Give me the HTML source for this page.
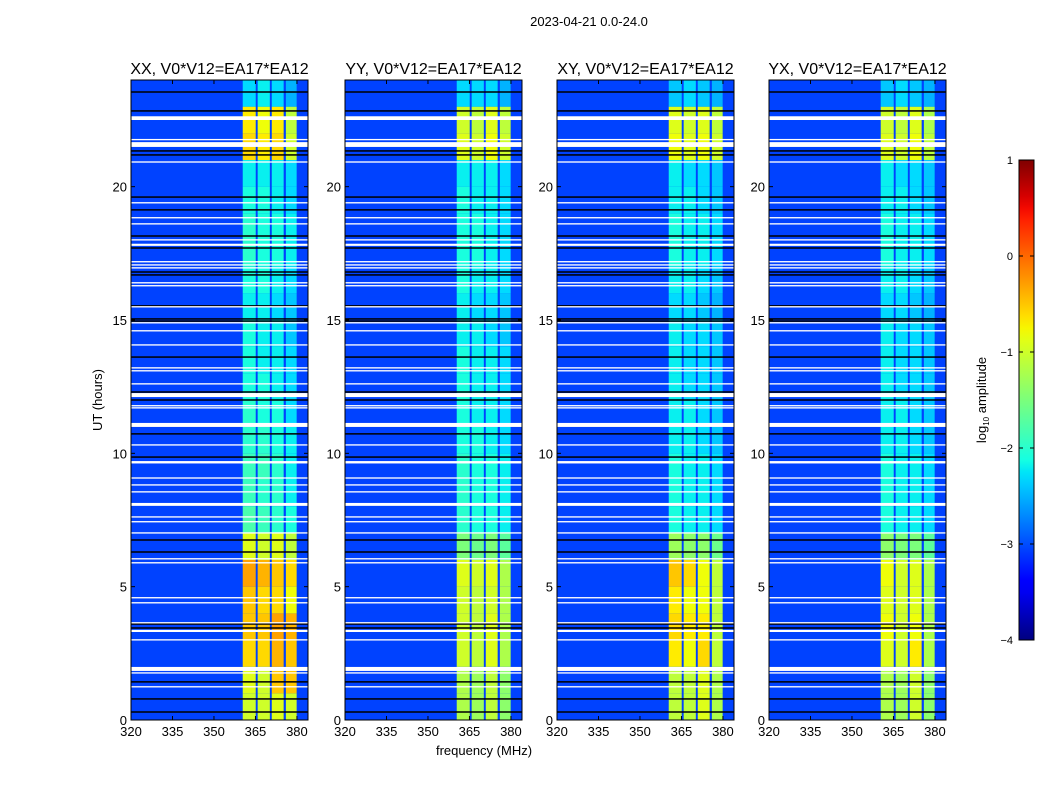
<!DOCTYPE html>
<html><head><meta charset="utf-8"><style>
body{margin:0;background:#fff;}
svg{display:block;font-family:"Liberation Sans",sans-serif;}
</style></head><body>
<svg id="fig" width="1050" height="800" viewBox="0 0 1050 800" xmlns="http://www.w3.org/2000/svg">
<text x="589" y="26" font-size="13" text-anchor="middle">2023-04-21 0.0-24.0</text>
<text x="102" y="400" font-size="13" text-anchor="middle" transform="rotate(-90 102 400)">UT (hours)</text>
<text x="484" y="755" font-size="13" text-anchor="middle">frequency (MHz)</text>
<defs><linearGradient id="jetg" x1="0" y1="1" x2="0" y2="0"></linearGradient></defs>
<g id="panels"></g>
<g id="cbar"></g>
</svg>
<script>
const panelTitles = ["XX, V0*V12=EA17*EA12","YY, V0*V12=EA17*EA12","XY, V0*V12=EA17*EA12","YX, V0*V12=EA17*EA12"];
const xTicks = [320,335,350,365,380];
const yTicks = [0,5,10,15,20];
const cbTicks = [1,0,-1,-2,-3,-4];
const subBands = [[360.4,365.1],[365.8,370.2],[370.9,375.2],[376.0,379.9]];
const bgValue = -3.05;
// hourly amplitude (log10) per sub-band, hours 0..23
const valsXX = [[-1.0,-1.0,-0.9,-1.0],[-0.9,-1.0,-0.5,-0.5],[-0.6,-0.6,-0.4,-0.5],[-0.5,-0.5,-0.3,-0.4],[-0.5,-0.6,-0.6,-0.8],[-0.3,-0.4,-0.5,-0.6],[-0.9,-1.0,-0.9,-1.1],[-1.8,-1.9,-2.0,-2.1],[-1.9,-2.0,-2.0,-2.2],[-1.9,-1.9,-2.0,-2.2],[-2.0,-2.0,-2.1,-2.2],[-2.0,-2.1,-2.1,-2.3],[-2.1,-2.1,-2.2,-2.3],[-2.1,-2.2,-2.2,-2.3],[-2.1,-2.2,-2.2,-2.4],[-2.2,-2.2,-2.3,-2.4],[-2.1,-2.1,-2.2,-2.3],[-2.0,-2.1,-2.1,-2.2],[-2.0,-2.1,-2.1,-2.2],[-2.1,-2.1,-2.2,-2.3],[-2.2,-2.2,-2.2,-2.3],[-0.6,-0.7,-0.6,-1.0],[-0.7,-0.8,-0.7,-1.1],[-2.3,-2.2,-2.3,-2.5]];
const valsYY = [[-1.2,-1.3,-1.1,-1.4],[-1.2,-1.3,-1.1,-1.4],[-1.0,-1.1,-0.9,-1.2],[-1.0,-1.1,-0.9,-1.2],[-1.0,-1.1,-1.0,-1.2],[-0.9,-1.0,-0.9,-1.2],[-1.5,-1.6,-1.5,-1.7],[-2.0,-2.1,-2.1,-2.2],[-2.0,-2.1,-2.1,-2.2],[-2.0,-2.1,-2.1,-2.2],[-2.1,-2.1,-2.2,-2.3],[-2.1,-2.2,-2.2,-2.3],[-2.1,-2.2,-2.2,-2.3],[-2.1,-2.2,-2.2,-2.3],[-2.2,-2.2,-2.3,-2.4],[-2.2,-2.3,-2.3,-2.4],[-2.1,-2.2,-2.2,-2.3],[-2.1,-2.1,-2.2,-2.3],[-2.1,-2.1,-2.2,-2.3],[-2.1,-2.2,-2.2,-2.3],[-2.2,-2.2,-2.2,-2.3],[-0.9,-1.0,-0.8,-1.0],[-1.0,-1.1,-0.9,-1.1],[-2.3,-2.3,-2.3,-2.5]];
const valsXY = [[-1.1,-1.1,-0.9,-1.2],[-1.1,-1.1,-0.9,-1.2],[-0.7,-0.8,-0.6,-1.1],[-0.6,-0.7,-0.7,-1.1],[-0.7,-0.8,-0.8,-1.1],[-0.5,-0.6,-0.8,-1.1],[-1.3,-1.4,-1.4,-1.6],[-2.1,-2.2,-2.2,-2.3],[-2.1,-2.2,-2.2,-2.3],[-2.1,-2.2,-2.2,-2.3],[-2.2,-2.2,-2.3,-2.4],[-2.2,-2.2,-2.3,-2.4],[-2.2,-2.3,-2.3,-2.4],[-2.2,-2.3,-2.3,-2.4],[-2.2,-2.3,-2.3,-2.4],[-2.3,-2.3,-2.4,-2.5],[-2.2,-2.2,-2.3,-2.4],[-2.1,-2.2,-2.2,-2.3],[-2.1,-2.2,-2.2,-2.3],[-2.2,-2.2,-2.3,-2.4],[-2.2,-2.3,-2.3,-2.4],[-0.8,-0.9,-0.8,-1.0],[-0.9,-1.0,-0.9,-1.1],[-2.4,-2.3,-2.4,-2.5]];
const valsYX = [[-1.2,-1.3,-1.0,-1.4],[-1.2,-1.3,-1.0,-1.4],[-0.9,-1.0,-0.7,-1.2],[-0.8,-1.0,-0.8,-1.2],[-0.9,-1.0,-0.9,-1.2],[-0.8,-1.0,-0.9,-1.2],[-1.4,-1.5,-1.5,-1.7],[-2.1,-2.2,-2.2,-2.3],[-2.1,-2.2,-2.2,-2.3],[-2.1,-2.2,-2.2,-2.3],[-2.2,-2.2,-2.3,-2.4],[-2.2,-2.2,-2.3,-2.4],[-2.2,-2.3,-2.3,-2.4],[-2.2,-2.3,-2.3,-2.4],[-2.2,-2.3,-2.3,-2.4],[-2.3,-2.3,-2.4,-2.5],[-2.2,-2.2,-2.3,-2.4],[-2.1,-2.2,-2.2,-2.3],[-2.1,-2.2,-2.2,-2.3],[-2.2,-2.2,-2.3,-2.4],[-2.2,-2.3,-2.3,-2.4],[-0.9,-1.0,-0.8,-1.1],[-1.0,-1.1,-0.9,-1.2],[-2.4,-2.3,-2.4,-2.5]];
const panelVals = [valsXX, valsYY, valsXY, valsYX];
// flagged (white) intervals in hours [start,end]
const flagStart = [22.5,21.74,21.49,20.9,19.37,18.81,18.58,17.98,17.78,17.16,17.04,16.93,16.37,16.26,15.47,14.87,14.57,14.04,13.18,13.07,12.58,12.11,11.76,11.68,10.99,10.29,9.62,9.05,8.79,8.53,8.03,7.59,7.41,6.99,6.02,5.87,4.56,4.37,3.62,3.3,2.98,1.84,1.74,1.22];
const flagEnd   = [22.64,21.79,21.67,20.95,19.42,18.86,18.63,18.03,17.86,17.21,17.09,16.98,16.42,16.31,15.52,14.92,14.62,14.09,13.23,13.12,12.63,12.26,11.81,11.73,11.14,10.34,9.71,9.1,8.84,8.58,8.14,7.64,7.46,7.04,6.07,5.92,4.61,4.42,3.67,3.38,3.03,1.99,1.79,1.27];
// black (dark) separator lines in hours
const blackLines = [23.55,22.84,21.34,21.19,19.61,19.13,18.15,17.7,16.8,16.69,15.53,15.04,14.96,13.61,12.3,12.0,10.73,9.86,6.75,6.3,3.6,3.45,1.43,0.79,0.3];

const panelX0 = [131,345,557,769], panelW = 177, py0 = 80, py1 = 720;
const fMin = 320, fMax = 384, tMin = 0, tMax = 24;
const NS = "http://www.w3.org/2000/svg";
function interp(t,pts){for(let i=1;i<pts.length;i++){if(t<=pts[i][0]){const a=pts[i-1],b=pts[i];return a[1]+(b[1]-a[1])*(t-a[0])/(b[0]-a[0]);}}return pts[pts.length-1][1];}
const jr=[[0,0],[0.35,0],[0.66,1],[0.89,1],[1,0.5]];
const jg=[[0,0],[0.125,0],[0.375,1],[0.64,1],[0.91,0],[1,0]];
const jb=[[0,0.5],[0.11,1],[0.34,1],[0.65,0],[1,0]];
function jet(v){const t=Math.max(0,Math.min(1,(v+4)/5));const c=x=>Math.round(255*x);return `rgb(${c(interp(t,jr))},${c(interp(t,jg))},${c(interp(t,jb))})`;}
function mk(tag,attrs,parent){const e=document.createElementNS(NS,tag);for(const k in attrs)e.setAttribute(k,attrs[k]);parent.appendChild(e);return e;}
const panelsG=document.getElementById('panels');
panelTitles.forEach((title,p)=>{
  const x0=panelX0[p];
  const xs=f=>x0+(f-fMin)/(fMax-fMin)*panelW;
  const ys=h=>py1-(h-tMin)/(tMax-tMin)*(py1-py0);
  const g=mk('g',{},panelsG);
  
  
  const bg=mk('rect',{x:x0,y:py0,width:panelW,height:py1-py0,fill:jet(bgValue)},g);
  
  
  panelVals[p].forEach((row,h)=>{
    row.forEach((v,b)=>{
      const r=mk('rect',{x:xs(subBands[b][0]),y:ys(h+1),width:xs(subBands[b][1])-xs(subBands[b][0]),height:ys(h)-ys(h+1),fill:jet(v)},g);
      
      
    });
  });
  blackLines.forEach(h=>{
    const l=mk('rect',{x:x0,y:ys(h)-0.75,width:panelW,height:1.5,fill:'#000'},g);
    
    
  });
  flagStart.forEach((s,i)=>{
    const y1=ys(flagEnd[i]),y2=ys(s);
    const f=mk('rect',{x:x0,y:y1,width:panelW,height:Math.max(1.3,y2-y1),fill:'#fff'},g);
    
    
  });
  const fr=mk('rect',{x:x0,y:py0,width:panelW,height:py1-py0,fill:'none',stroke:'#000','stroke-width':1},g);
  
  
  xTicks.forEach(f=>{
    const x=xs(f);
    mk('line',{x1:x,x2:x,y1:py1,y2:py1-4,stroke:'#000'},g);
    mk('line',{x1:x,x2:x,y1:py0,y2:py0+4,stroke:'#000'},g);
    const t=mk('text',{x:x,y:py1+16,'font-size':13,'text-anchor':'middle'},g);
    t.textContent=f;
    
    
  });
  yTicks.forEach(h=>{
    const y=ys(h);
    mk('line',{x1:x0,x2:x0+4,y1:y,y2:y,stroke:'#000'},g);
    mk('line',{x1:x0+panelW,x2:x0+panelW-4,y1:y,y2:y,stroke:'#000'},g);
    const t=mk('text',{x:x0-4,y:y+5,'font-size':13,'text-anchor':'end'},g);
    t.textContent=h;
    
    
  });
  const tt=mk('text',{x:x0+panelW/2,y:74,'font-size':16,'text-anchor':'middle'},g);
  tt.textContent=title;
  
  
});
// colorbar
const grad=document.getElementById('jetg');
for(let i=0;i<=40;i++){mk('stop',{offset:(i/40),'stop-color':jet(-4+5*i/40)},grad);}
const cb=document.getElementById('cbar');
const cbx=1019,cbw=15,cby0=160,cby1=640;
const cr=mk('rect',{x:cbx,y:cby0,width:cbw,height:cby1-cby0,fill:'url(#jetg)',stroke:'#000','stroke-width':1},cb);


cbTicks.forEach(v=>{
  const y=cby1-(v+4)/5*(cby1-cby0);
  mk('line',{x1:cbx,x2:cbx+4,y1:y,y2:y,stroke:'#000'},cb);
  mk('line',{x1:cbx+cbw,x2:cbx+cbw-4,y1:y,y2:y,stroke:'#000'},cb);
  const t=mk('text',{x:cbx-6,y:y+4,'font-size':11,'text-anchor':'end'},cb);
  t.textContent=v<0?'\u2212'+(-v):String(v);
  
  
});
const lab=mk('text',{x:986,y:400,'font-size':13,'text-anchor':'middle',transform:'rotate(-90 986 400)'},cb);
lab.innerHTML='log<tspan font-size="8" dy="3">10</tspan><tspan dy="-3"> amplitude</tspan>';


</script>
</body></html>
